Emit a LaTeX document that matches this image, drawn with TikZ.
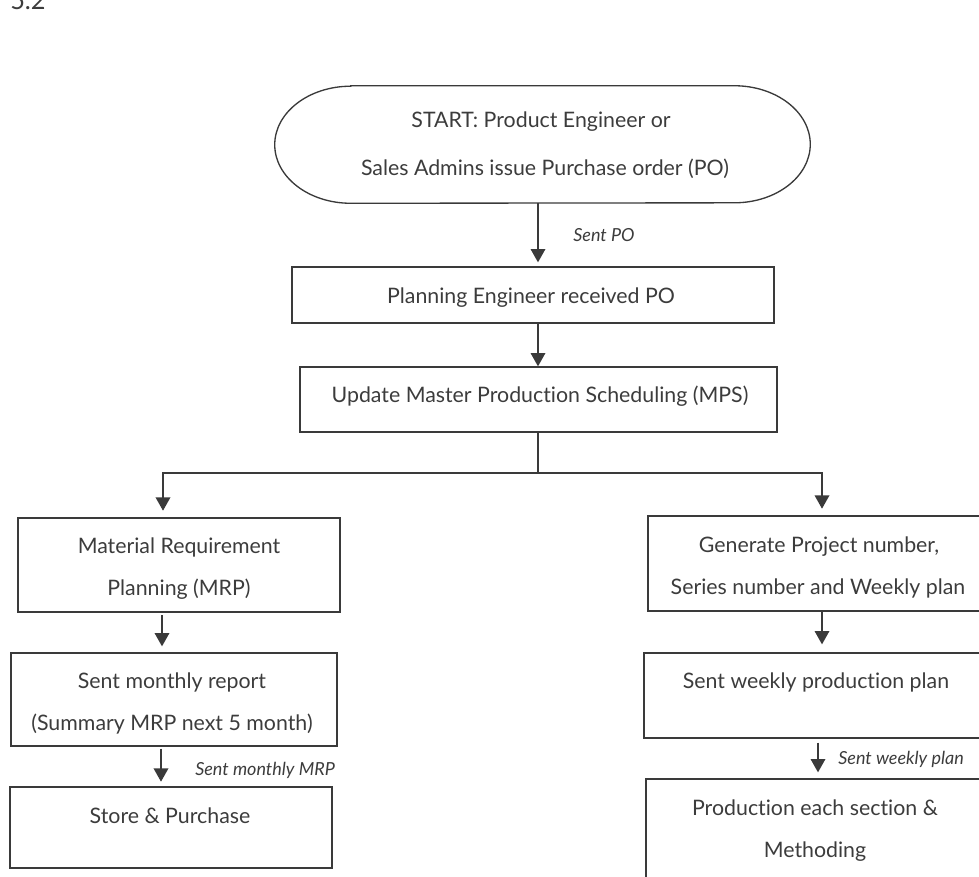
\documentclass[tikz,border=0pt]{standalone}
\usepackage{fontspec}
\setmainfont[Ligatures=NoCommon]{Lato}
\usetikzlibrary{arrows.meta,fit}
\definecolor{ink}{HTML}{3C3C3C}
\definecolor{edge}{HTML}{3A3A3A}

\begin{document}
\begin{tikzpicture}[x=0.75pt,y=-0.75pt,
  box/.style={draw=edge, line width=1pt, inner sep=0pt},
  frame/.style={inner sep=0pt},
  txt/.style={anchor=base, inner sep=0pt, text=ink, font=\fontsize{16}{19}\selectfont},
  lbl/.style={anchor=base west, inner sep=0pt, text=ink, font=\fontsize{13.5}{16}\selectfont\itshape},
  wire/.style={draw=edge, line width=1pt},
  flow/.style={wire, -{Triangle[width=11pt,length=10pt]}}]

\useasboundingbox (0,0) rectangle (979,876);
\clip (0,0) rectangle (979,876);

% section number
\node[anchor=base west, inner sep=0pt, text=ink, font=\fontsize{19}{22}\selectfont] (secno) at (10,9) {5.2};

% start terminator with elliptic ends
\node[frame, fit={(275,86) (810,203)}] (start) {};
\draw[edge, line width=1pt]
  ([xshift=57pt]start.north west) -- ([xshift=-57pt]start.north east)
  arc[start angle=90, end angle=-90, x radius=57pt, y radius=43.9pt]
  -- ([xshift=57pt]start.south west)
  arc[start angle=270, end angle=90, x radius=57pt, y radius=43.9pt] -- cycle;
\node[txt] (start-a) at (541,127) {START: Product Engineer or};
\node[txt] (start-b) at (545,175) {Sales Admins issue Purchase order (PO)};

% process boxes
\node[box, fit={(292,267) (774,323)}] (plan) {};
\node[txt] (plan-t) at (531,303) {Planning Engineer received PO};

\node[box, fit={(300,367) (777,432)}] (mps) {};
\node[txt] (mps-t) at (540,402) {Update Master Production Scheduling (MPS)};

\node[box, fit={(18,518) (340,612)}] (mrp) {};
\node[txt] (mrp-a) at (179,553) {Material Requirement};
\node[txt] (mrp-b) at (179,595) {Planning (MRP)};

\node[box, fit={(11,653) (337,746)}] (month) {};
\node[txt] (month-a) at (172,688) {Sent monthly report};
\node[txt] (month-b) at (172,730) {(Summary MRP next 5 month)};

\node[box, fit={(10,787) (332,868)}] (store) {};
\node[txt] (store-t) at (170,823) {Store \& Purchase};

\node[box, fit={(648,516) (988,611)}] (gen) {};
\node[txt] (gen-a) at (819,552) {Generate Project number,};
\node[txt] (gen-b) at (818,594) {Series number and Weekly plan};

\node[box, fit={(644,653) (988,738)}] (week) {};
\node[txt] (week-t) at (816,688) {Sent weekly production plan};

\node[box, fit={(646,779) (986,900)}] (prod) {};
\node[txt] (prod-a) at (815,815) {Production each section \&};
\node[txt] (prod-b) at (815,857) {Methoding};

% connector columns
\coordinate (colA) at (538,0);
\coordinate (colL) at (163,0);
\coordinate (colR) at (822,0);
\coordinate (colL2) at (162,0);
\coordinate (colL3) at (161,0);
\coordinate (colR2) at (818,0);
\coordinate (split) at (538,473);

% connectors
\draw[flow, shorten >=3pt] (start.south -| colA) -- (plan.north -| colA);
\draw[flow] (plan.south -| colA) -- (mps.north -| colA);
\draw[wire] (mps.south -| colA) -- (split);
\draw[flow, shorten >=5pt] (split) -| (mrp.north -| colL);
\draw[flow, shorten >=5pt] (split) -| (gen.north -| colR);
\draw[flow, shorten <=2pt, shorten >=4.5pt] (mrp.south -| colL2) -- (month.north -| colL2);
\draw[flow, shorten <=1.5pt, shorten >=3.5pt] (month.south -| colL3) -- (store.north -| colL3);
\draw[flow, shorten >=6pt] (gen.south -| colR) -- (week.north -| colR);
\draw[flow, shorten <=3pt, shorten >=4.5pt] (week.south -| colR2) -- (prod.north -| colR2);

% connector labels
\node[lbl] (po-l) at (573,241) {Sent PO};
\node[lbl] (mrp-l) at (195,775) {Sent monthly MRP};
\node[lbl] (week-l) at (838,764) {Sent weekly plan};
\end{tikzpicture}
\end{document}
